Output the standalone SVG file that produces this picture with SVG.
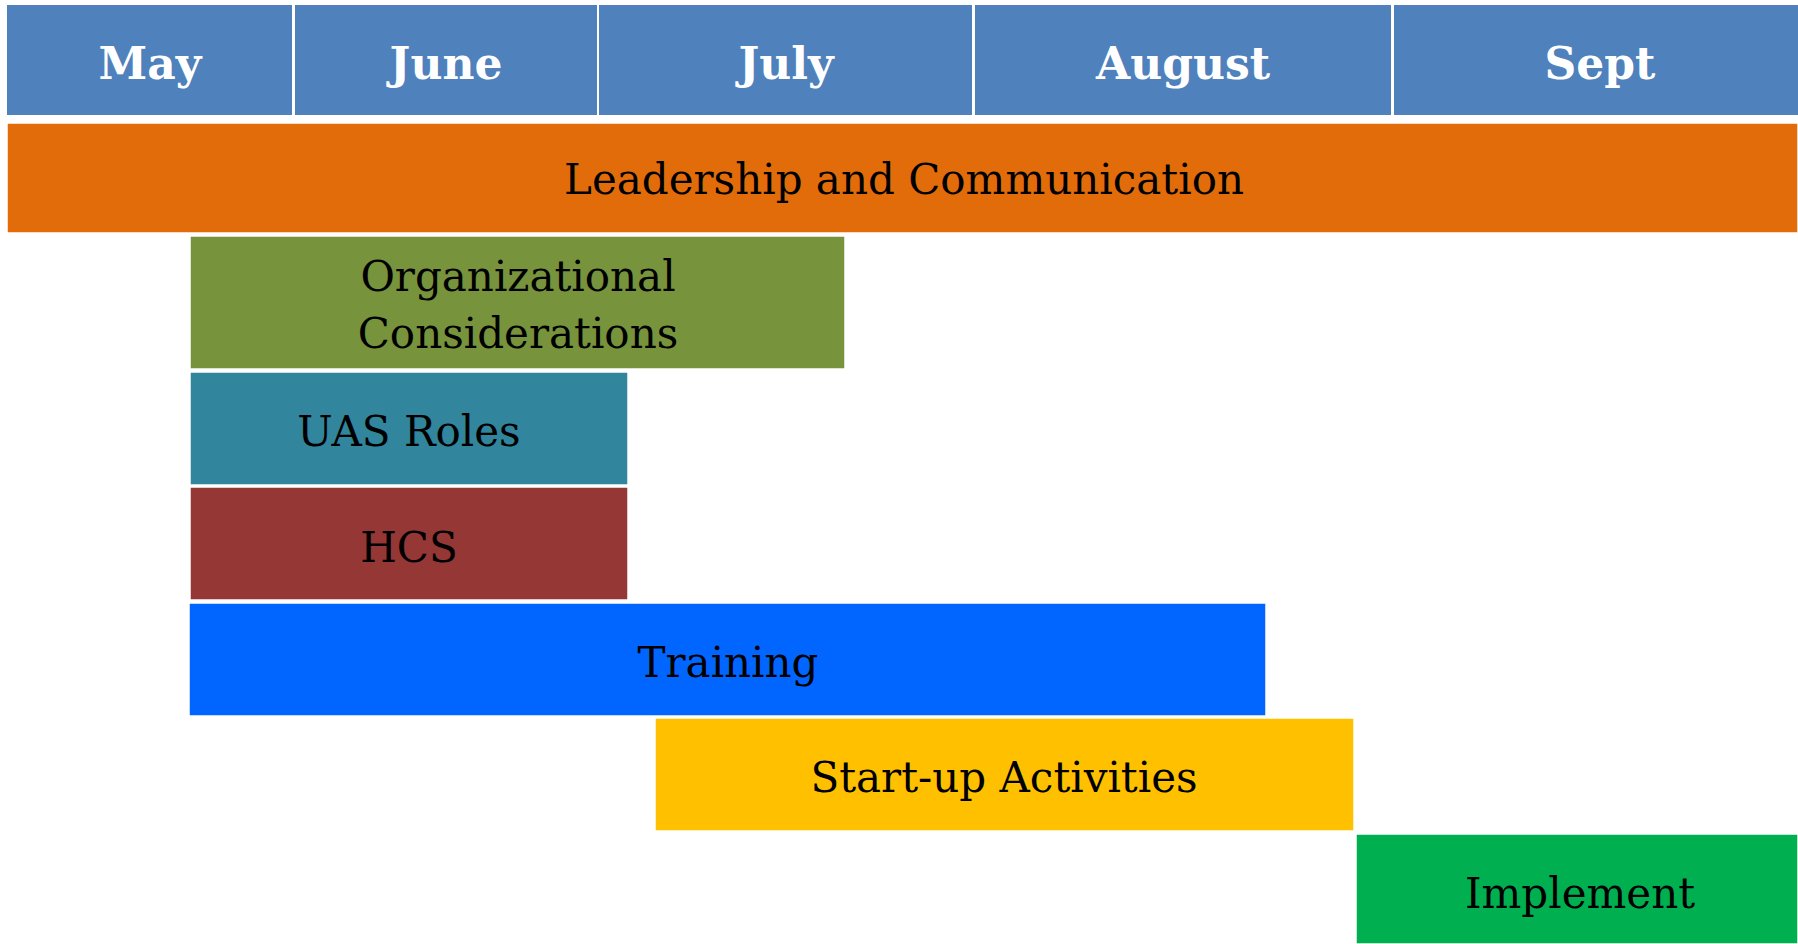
<svg xmlns="http://www.w3.org/2000/svg" width="1798" height="944" viewBox="0 0 1798 944">
<style>
.hdr{fill:#4F81BD}
.ht{font-family:"DejaVu Serif","Liberation Serif",serif;font-weight:bold;font-size:44px;fill:#fff;text-anchor:middle}
.bt{font-family:"DejaVu Serif","Liberation Serif",serif;font-size:42px;fill:#000;text-anchor:middle}
.bar{stroke:#fff;stroke-width:1.5}
</style>
<rect width="1798" height="944" fill="#fff"/>
<g id="months">
<g id="may"><rect class="hdr" x="7" y="5" width="285" height="110"/><text class="ht" x="150" y="79">May</text></g>
<g id="june"><rect class="hdr" x="295" y="5" width="302" height="110"/><text class="ht" x="446" y="79">June</text></g>
<g id="july"><rect class="hdr" x="599" y="5" width="373" height="110"/><text class="ht" x="786" y="79">July</text></g>
<g id="august"><rect class="hdr" x="975" y="5" width="416" height="110"/><text class="ht" x="1183" y="79">August</text></g>
<g id="sept"><rect class="hdr" x="1394" y="5" width="404" height="110"/><text class="ht" x="1600" y="79">Sept</text></g>
</g>
<g id="connectors"></g>
<g id="leadership"><rect class="bar" x="7" y="123" width="1791" height="110" fill="#E36C0A"/><text class="bt" x="904" y="194">Leadership and Communication</text></g>
<g id="organizational"><rect class="bar" x="190" y="236" width="655" height="133" fill="#77933C"/><text class="bt" x="518" y="291">Organizational</text><text class="bt" x="518" y="348">Considerations</text></g>
<g id="uas-roles"><rect class="bar" x="190" y="372" width="438" height="113" fill="#31859C"/><text class="bt" x="409" y="446">UAS Roles</text></g>
<g id="hcs"><rect class="bar" x="190" y="487" width="438" height="113" fill="#953735"/><text class="bt" x="409" y="562">HCS</text></g>
<g id="training"><rect class="bar" x="189" y="603" width="1077" height="113" fill="#0066FF"/><text class="bt" x="728" y="677">Training</text></g>
<g id="startup"><rect class="bar" x="655" y="718" width="699" height="113" fill="#FFC000"/><text class="bt" x="1004" y="792">Start-up Activities</text></g>
<g id="implement"><rect class="bar" x="1356" y="834" width="442" height="110" fill="#00B050"/><text class="bt" x="1580" y="908">Implement</text></g>
</svg>
